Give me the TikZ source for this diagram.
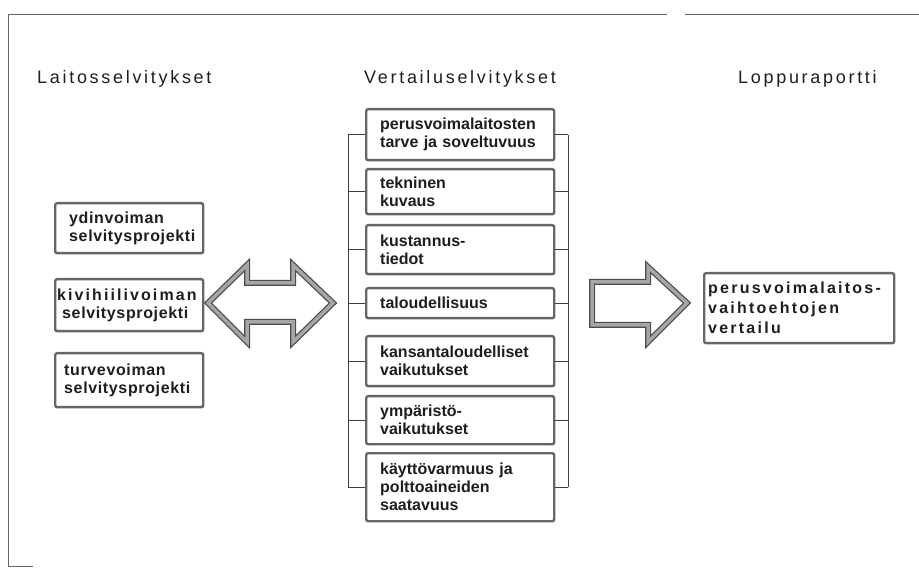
\documentclass[tikz,border=0pt]{standalone}
\usepackage{fontspec}
\setmainfont{Liberation Sans}
\newfontfamily\hdrfont[LetterSpace=15]{Liberation Sans}
\newfontfamily\boxfont{Liberation Sans}
\newfontfamily\lboxfont[LetterSpace=4]{Liberation Sans}
\newfontfamily\wideboxfont[LetterSpace=13]{Liberation Sans}
\newfontfamily\rboxfont[LetterSpace=14]{Liberation Sans}
\definecolor{ink}{HTML}{1E1E1E}
\definecolor{edge}{HTML}{666666}
\begin{document}
\begin{tikzpicture}[x=1pt,y=-1pt,
  frame/.style={draw=black!60, line width=1pt},
  hdr/.style={anchor=base west, inner sep=0pt, text=ink, font=\hdrfont\fontsize{18}{20}\selectfont},
  box/.style={draw=edge, line width=2.4pt, rounded corners=2pt, fill=white, align=left, anchor=north west,
    text=ink, font=\boxfont\bfseries\fontsize{16}{18}\selectfont, inner ysep=0pt},
  lbox/.style={box, minimum width=148pt, font=\lboxfont\bfseries\fontsize{16}{18}\selectfont},
  cbox/.style={box, minimum width=188pt, text width=160pt, inner xsep=14pt},
  rbox/.style={box, minimum width=190pt, minimum height=70pt, text width=182pt, inner xsep=4pt,
    font=\rboxfont\bfseries\fontsize{16}{20}\selectfont},
  tick/.style={draw=black!75, line width=1pt},
  bigarrow/.style={draw=black!70, line width=6pt, line join=miter},
  bigarrowin/.style={draw=black!35, line width=3.5pt, line join=miter},
]
\useasboundingbox (0,0) rectangle (919,569);
% page frame
\draw[frame] (8,566) -- (8,15) -- (667,15);
\draw[frame] (685,15) -- (919,15);
\draw[frame] (8,566) -- (33,566);

% headers
\node[hdr] (h1) at (37,84) {Laitosselvitykset};
\node[hdr] (h2) at (364,84) {Vertailuselvitykset};
\node[hdr] (h3) at (738,84) {Loppuraportti};

% left boxes
\node[lbox, minimum height=50pt, text width=134pt, inner xsep=7pt] (l1) at (54,202)
  {\hspace*{7pt}ydinvoiman\\\hspace*{7pt}selvitysprojekti};
\node[lbox, minimum height=52pt, text width=144pt, inner xsep=2pt] (l2) at (54,278)
  {{\wideboxfont kivihiilivoiman}\\\hspace*{5pt}selvitysprojekti};
\node[lbox, minimum height=54pt, text width=134pt, inner xsep=7pt] (l3) at (54,352)
  {\hspace*{2pt}turvevoiman\\\hspace*{2pt}selvitysprojekti};

% center boxes
\node[cbox, minimum height=51pt] (c1) at (365,108) {perusvoimalaitosten\\tarve ja soveltuvuus};
\node[cbox, minimum height=45pt] (c2) at (365,168) {tekninen\\kuvaus};
\node[cbox, minimum height=49pt] (c3) at (365,224) {kustannus-\\tiedot};
\node[cbox, minimum height=30pt] (c4) at (365,287) {taloudellisuus};
\node[cbox, minimum height=50pt] (c5) at (365,335) {kansantaloudelliset\\vaikutukset};
\node[cbox, minimum height=48pt] (c6) at (365,395) {ympäristö-\\vaikutukset};
\node[cbox, minimum height=68pt] (c7) at (365,452) {käyttövarmuus ja\\polttoaineiden\\saatavuus};

% right box
\node[rbox] (r1) at (703,272) {perusvoimalaitos-\\vaihtoehtojen\\vertailu};

% brackets
\coordinate (lb) at (348,0);
\coordinate (rb) at (568,0);
\foreach \n in {c1,c2,c3,c4,c5,c6,c7}{
  \draw[tick] (\n.west) -- (\n.west -| lb);
  \draw[tick] (\n.east) -- (\n.east -| rb);
}
\draw[tick] (c1.west -| lb) -- (c7.west -| lb);
\draw[tick] (c1.east -| rb) -- (c7.east -| rb);

% double arrow
\def\dbl{(208,303) -- (247,265) -- (247,283) -- (293,283) -- (293,265) -- (333,303) -- (293,342) -- (293,322) -- (247,322) -- (247,342) -- cycle}
\draw[bigarrow] \dbl;
\draw[bigarrowin] \dbl;
% right arrow
\def\sgl{(592,282) -- (648,282) -- (648,267) -- (687,303) -- (648,342) -- (648,325) -- (592,325) -- cycle}
\draw[bigarrow] \sgl;
\draw[bigarrowin] \sgl;
\end{tikzpicture}
\end{document}
